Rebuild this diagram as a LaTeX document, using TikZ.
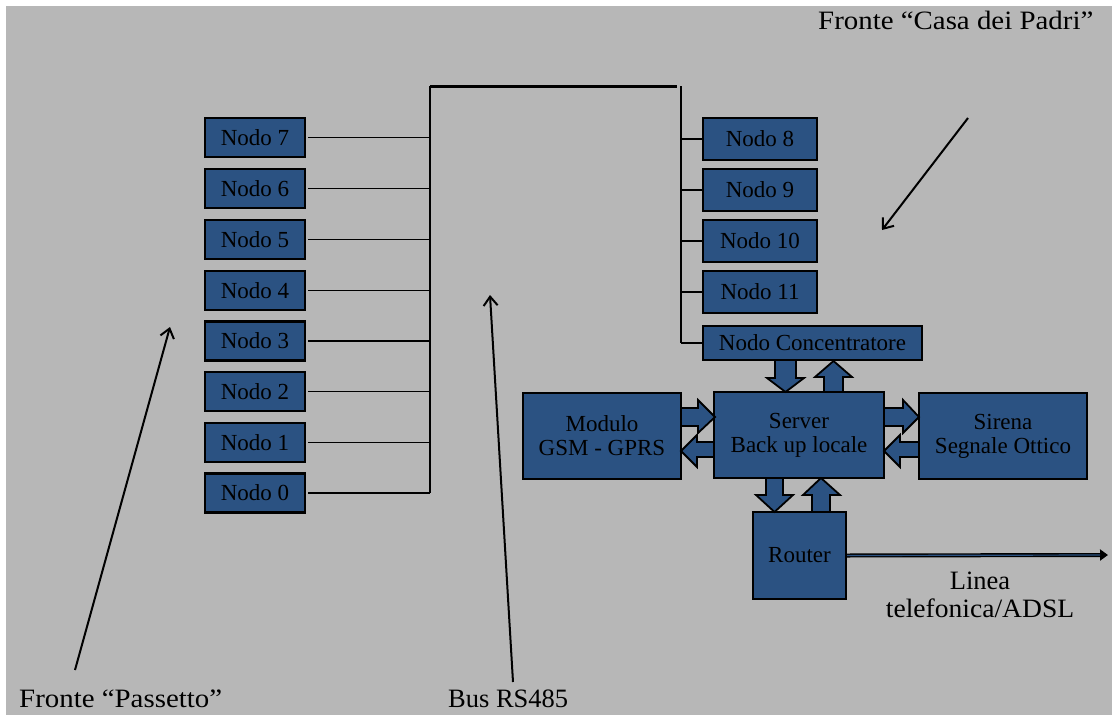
\documentclass[tikz,border=0pt]{standalone}
\usepackage{fontspec}
\setmainfont{Liberation Serif}
\usetikzlibrary{arrows.meta}
\definecolor{bg}{HTML}{B7B7B7}
\definecolor{boxblue}{HTML}{2B5282}
\begin{document}
\begin{tikzpicture}[x=1pt,y=-1pt,
  nodebox/.style={draw=black,line width=2.2pt,fill=boxblue,inner sep=0pt,
    font=\fontsize{23}{24}\selectfont,align=center},
  busline/.style={line width=1.6pt},
  blockarrow/.style={draw=black,line width=1.8pt,fill=boxblue,line join=miter},
  label/.style={font=\fontsize{26.5}{28}\selectfont,inner sep=0pt,align=center},
  pointer/.style={line width=2pt,-{Straight Barb[length=9pt,width=14pt,line width=2pt]}}
]
\useasboundingbox (0,0) rectangle (1112,715);
\fill[white] (0,0) rectangle (1112,715);
\fill[bg] (6,6) rectangle (1112,715);

% left nodes
\foreach \n/\y in {7/137.5,6/188.5,5/239.5,4/290.5,3/341,2/391.5,1/442.5,0/493}{
  \node[nodebox,minimum width=100pt,minimum height=39pt] (n\n) at (255,\y) {Nodo \n};
}
% right nodes
\foreach \n/\y in {8/139,9/190,10/241,11/292}{
  \node[nodebox,minimum width=114pt,minimum height=42pt] (n\n) at (760,\y) {Nodo \n};
}
\node[nodebox,minimum width=219pt,minimum height=34pt] (conc) at (812.5,343) {Nodo Concentratore};
\node[nodebox,minimum width=170pt,minimum height=86pt] (server) at (799,435) {Server\\Back up locale};
\node[nodebox,minimum width=158pt,minimum height=86pt] (gsm) at (602,436) {Modulo\\GSM - GPRS};
\node[nodebox,minimum width=168pt,minimum height=86pt] (sirena) at (1003,436) {Sirena\\Segnale Ottico};
\node[nodebox,minimum width=93pt,minimum height=87pt] (router) at (799.5,555.5) {Router};

% bus
\coordinate (busTL) at (430,86);
\coordinate (busBL) at (430,493);
\coordinate (busTR) at (681,86);
\coordinate (busBR) at (681,343);
\draw[line width=2.4pt] (busBL) -- (busTL);
\draw[line width=3pt] (busTL) -- (677,86);
\draw[line width=2.2pt] (busTR) -- (busBR);
\foreach \n in {7,6,5,4,3,2,1,0}{
  \draw[busline] (n\n.east) ++(2,0) -- (n\n.east -| busTL);
}
\foreach \n in {8,9,10,11}{
  \draw[busline] (n\n.west) -- (n\n.west -| busTR);
}
\draw[busline] (conc.west) -- (conc.west -| busTR);

% block arrows
\draw[blockarrow] (775,360)--(796,360)--(796,378)--(804,378)--(785.5,392)--(767,378)--(775,378)--cycle;
\draw[blockarrow] (824,392)--(843,392)--(843,377)--(852,377)--(833.5,361)--(815,377)--(824,377)--cycle;
\draw[blockarrow] (681,408)--(698,408)--(698,400)--(715,417)--(698,433)--(698,426)--(681,426)--cycle;
\draw[blockarrow] (714,442)--(697,442)--(697,435)--(681,451)--(697,467)--(697,457)--(714,457)--cycle;
\draw[blockarrow] (884,408)--(903,408)--(903,400)--(919,417)--(903,433)--(903,426)--(884,426)--cycle;
\draw[blockarrow] (919,442)--(900,442)--(900,435)--(884,451)--(900,467)--(900,457)--(919,457)--cycle;
\draw[blockarrow] (766,478)--(783,478)--(783,495)--(793,495)--(774.5,512)--(756,495)--(766,495)--cycle;
\draw[blockarrow] (812,512)--(830,512)--(830,495)--(840,495)--(821,478)--(803,495)--(812,495)--cycle;

% router line
\coordinate (lineEnd) at (1108,555);
\draw[line width=4pt,-{Triangle[length=8pt,width=11pt]}] (router.east) -- (lineEnd);
\draw[line width=1.2pt,boxblue,shorten >=8pt] (router.east) -- (lineEnd);

% labels
\node[label] (linea) at (980,595) {Linea\\\scalebox{1.04}[1]{telefonica/ADSL}};
\node[label,anchor=base west] (casa) at (818,29) {\scalebox{1.09}[1]{Fronte “Casa dei Padri”}};
\node[label,anchor=base west] (pass) at (19,707) {\scalebox{1.09}[1]{Fronte “Passetto”}};
\node[label,anchor=base west] (bus) at (448,707) {Bus RS485};

% pointers
\coordinate (pA) at (75,670);
\coordinate (pAt) at (170,327);
\coordinate (pB) at (513,682);
\coordinate (pBt) at (490,295);
\coordinate (pC) at (968,118);
\coordinate (pCt) at (882,230);
\draw[pointer] (pA) -- (pAt);
\draw[pointer] (pB) -- (pBt);
\draw[pointer] (pC) -- (pCt);
\end{tikzpicture}
\end{document}
